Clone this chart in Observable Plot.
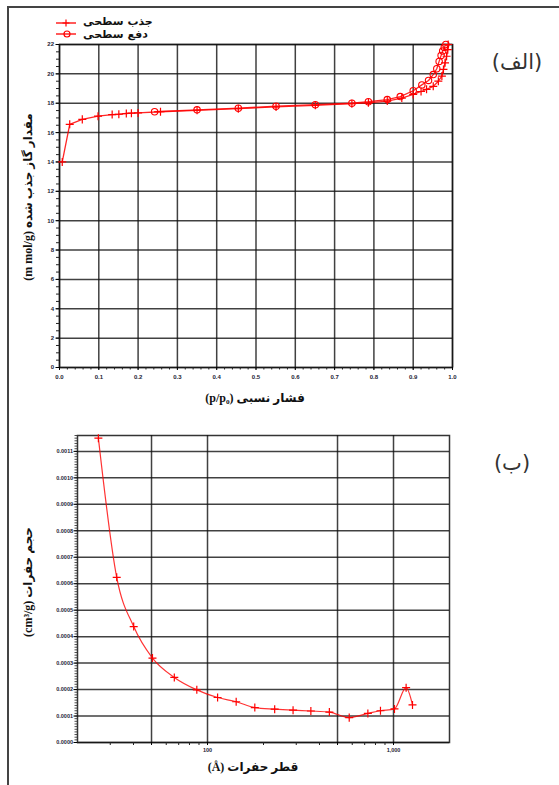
<!DOCTYPE html>
<html><head><meta charset="utf-8">
<script src="https://cdn.jsdelivr.net/npm/d3@7"></script>
<script src="https://cdn.jsdelivr.net/npm/@observablehq/plot@0.6"></script>
<style>
body{margin:0;background:#fff;}
#page{position:relative;width:559px;height:785px;overflow:hidden;background:#fff;}
.abs{position:absolute;}
.frameL{position:absolute;left:7px;top:6px;width:2px;height:790px;background:#444;}
.frameT{position:absolute;left:7px;top:6px;width:560px;height:2px;background:#444;}
.lab{position:absolute;white-space:nowrap;direction:rtl;font-family:"Liberation Serif","DejaVu Sans",serif;font-weight:bold;color:#111;line-height:1;}
.panel{position:absolute;white-space:nowrap;direction:rtl;font-family:"DejaVu Sans",sans-serif;color:#333;font-size:21px;line-height:1;}
svg text{font-family:"Liberation Sans","DejaVu Sans",sans-serif;}
</style></head>
<body><div id="page">
<div class="frameT"></div><div class="frameL"></div>
<div id="p1" class="abs" style="left:0;top:0;"></div>
<div id="p2" class="abs" style="left:0;top:400px;"></div>
<svg class="abs" style="left:0;top:0" width="200" height="44">
  <line x1="56" x2="76" y1="23" y2="23" stroke="red" stroke-width="1.3"/>
  <path d="M62.5,23h7M66,19.5v7" stroke="red" stroke-width="1.2"/>
  <line x1="56" x2="76" y1="34" y2="34" stroke="red" stroke-width="1.3"/>
  <circle cx="67" cy="34" r="3" fill="none" stroke="red" stroke-width="1.2"/>
</svg>
<div class="lab" style="left:83px;top:16px;font-size:11px;font-family:'DejaVu Sans';">جذب سطحی</div>
<div class="lab" style="left:83px;top:29px;font-size:11px;font-family:'DejaVu Sans';">دفع سطحی</div>
<div class="lab" style="left:28px;top:197px;font-size:12px;transform:translate(-50%,-50%) rotate(-90deg);">مقدار گاز جذب شده (m mol/g)</div>
<div class="lab" style="left:255px;top:398px;font-size:12px;transform:translate(-50%,-50%);">فشار نسبی (p/p₀)</div>
<div class="lab" style="left:28px;top:582px;font-size:12px;transform:translate(-50%,-50%) rotate(-90deg);">حجم حفرات (cm³/g)</div>
<div class="lab" style="left:253px;top:767px;font-size:12px;transform:translate(-50%,-50%);">قطر حفرات (Å)</div>
<div class="panel" style="left:517px;top:62px;transform:translate(-50%,-50%);">(الف)</div>
<div class="panel" style="left:512px;top:463px;transform:translate(-50%,-50%);">(ب)</div>
</div>
<script>
// ---- Chart (الف): adsorption / desorption isotherm ----
const adsP = [0.007,0.026,0.058,0.098,0.134,0.151,0.170,0.183,0.200,0.257,0.350,0.455,0.551,0.651,0.744,0.786,0.834,0.871,0.900,0.920,0.934,0.951,0.964,0.973,0.977,0.981,0.985,0.988,0.989];
const adsV = [14.0,16.56,16.9,17.12,17.23,17.25,17.30,17.32,17.34,17.42,17.52,17.63,17.75,17.86,17.97,18.03,18.15,18.35,18.6,18.8,18.95,19.15,19.5,19.85,20.3,20.75,21.2,21.65,22.0];
const desP = [0.983,0.979,0.975,0.971,0.966,0.960,0.951,0.939,0.922,0.900,0.867,0.834,0.786,0.744,0.651,0.551,0.455,0.350,0.242];
const desV = [22.0,21.8,21.55,21.25,20.85,20.35,19.95,19.55,19.25,18.85,18.45,18.25,18.1,18.0,17.9,17.8,17.66,17.55,17.42];
const xTicks1 = [0,0.1,0.2,0.3,0.4,0.5,0.6,0.7,0.8,0.9,1.0];
const yTicks1 = [0,2,4,6,8,10,12,14,16,18,20,22];

// ---- Chart (ب): pore size distribution ----
const poreD = [25.9,32.5,40.1,50.6,66.3,87.6,113.3,142.6,179.6,229.7,288.4,359.5,452,578,728,851,1012,1169,1265];
const poreV = [0.00115,0.000624,0.000438,0.000319,0.000246,0.000199,0.00017,0.000154,0.000132,0.000126,0.000122,0.000119,0.000115,0.000094,0.00011,0.00012,0.000127,0.000207,0.000142];
const xTicks2 = [50,100,500,1000];
const xMinor2 = [30,40,60,70,80,90,200,300,400,600,700,800,900];
const yTicks2 = [0,0.0001,0.0002,0.0003,0.0004,0.0005,0.0006,0.0007,0.0008,0.0009,0.0010,0.0011];

const ads = adsP.map((p,i)=>({p, v:adsV[i]}));
const des = desP.map((p,i)=>({p, v:desV[i]}));
const pore = poreD.map((d,i)=>({d, v:poreV[i]}));

const gridStyle = {stroke:"#111", strokeOpacity:0.8, strokeWidth:1.5};
const xMinor1 = d3.range(0, 1.0001, 0.02);
const yMinor1 = d3.range(0, 22.001, 0.5);
const yMinor2 = d3.range(0, 0.001161, 0.00001);

const p1 = Plot.plot({
  width:559, height:400,
  marginLeft:59, marginRight:107, marginTop:44, marginBottom:33,
  x:{domain:[0,1], axis:null},
  y:{domain:[0,22], axis:null},
  style:{fontSize:"6px", fontWeight:"bold", background:"transparent"},
  marks:[
    Plot.gridX(xTicks1, gridStyle),
    Plot.gridY(yTicks1, gridStyle),
    Plot.frame({stroke:"#111", strokeWidth:1.5, strokeOpacity:0.85}),
    Plot.axisX(xMinor1, {tickSize:2.5, tickFormat:()=>"", label:null, stroke:"#222"}),
    Plot.axisX(xTicks1, {tickSize:3, tickPadding:4, tickFormat:d3.format(".1f"), label:null, fill:"#223"}),
    Plot.axisY(yMinor1, {tickSize:3, tickFormat:()=>"", label:null, stroke:"#222"}),
    Plot.axisY(yTicks1, {tickSize:3.5, tickPadding:2, tickFormat:d => d, label:null, fill:"#223"}),
    Plot.line(ads, {x:"p", y:"v", stroke:"red", strokeWidth:1.3, strokeOpacity:0.85}),
    Plot.line(des, {x:"p", y:"v", stroke:"red", strokeWidth:1.3, strokeOpacity:0.85}),
    Plot.dot(ads, {x:"p", y:"v", symbol:"plus", r:2.7, stroke:"red", strokeWidth:1.2}),
    Plot.dot(des, {x:"p", y:"v", symbol:"circle", r:3.2, stroke:"red", fill:"none", strokeWidth:1.1})
  ]
});
document.getElementById("p1").append(p1);

const p2 = Plot.plot({
  width:559, height:385,
  marginLeft:77, marginRight:110, marginTop:35, marginBottom:43,
  x:{type:"log", domain:[20,2000], axis:null},
  y:{domain:[0,0.00116], axis:null},
  style:{fontSize:"5.5px", fontWeight:"bold", background:"transparent"},
  marks:[
    Plot.gridX(xTicks2, gridStyle),
    Plot.gridY(yTicks2, gridStyle),
    Plot.frame({stroke:"#111", strokeWidth:1.5, strokeOpacity:0.85}),
    Plot.axisX(xMinor2, {tickSize:3, tickFormat:()=>"", label:null, stroke:"#222"}),
    Plot.axisX(xTicks2, {tickSize:3, tickPadding:3, tickFormat:d3.format(","), label:null, fill:"#223"}),
    Plot.axisY(yMinor2, {tickSize:2.5, tickFormat:()=>"", label:null, stroke:"#222", strokeWidth:0.8}),
    Plot.axisY(yTicks2, {tickSize:3.5, tickPadding:1, tickFormat:d3.format(".4f"), label:null, fill:"#223"}),
    Plot.line(pore, {x:"d", y:"v", stroke:"red", strokeWidth:1.2, strokeOpacity:0.8, curve:"monotone-x"}),
    Plot.dot(pore, {x:"d", y:"v", symbol:"plus", r:2.7, stroke:"red", strokeWidth:1.2})
  ]
});
document.getElementById("p2").append(p2);
</script>
</body></html>
